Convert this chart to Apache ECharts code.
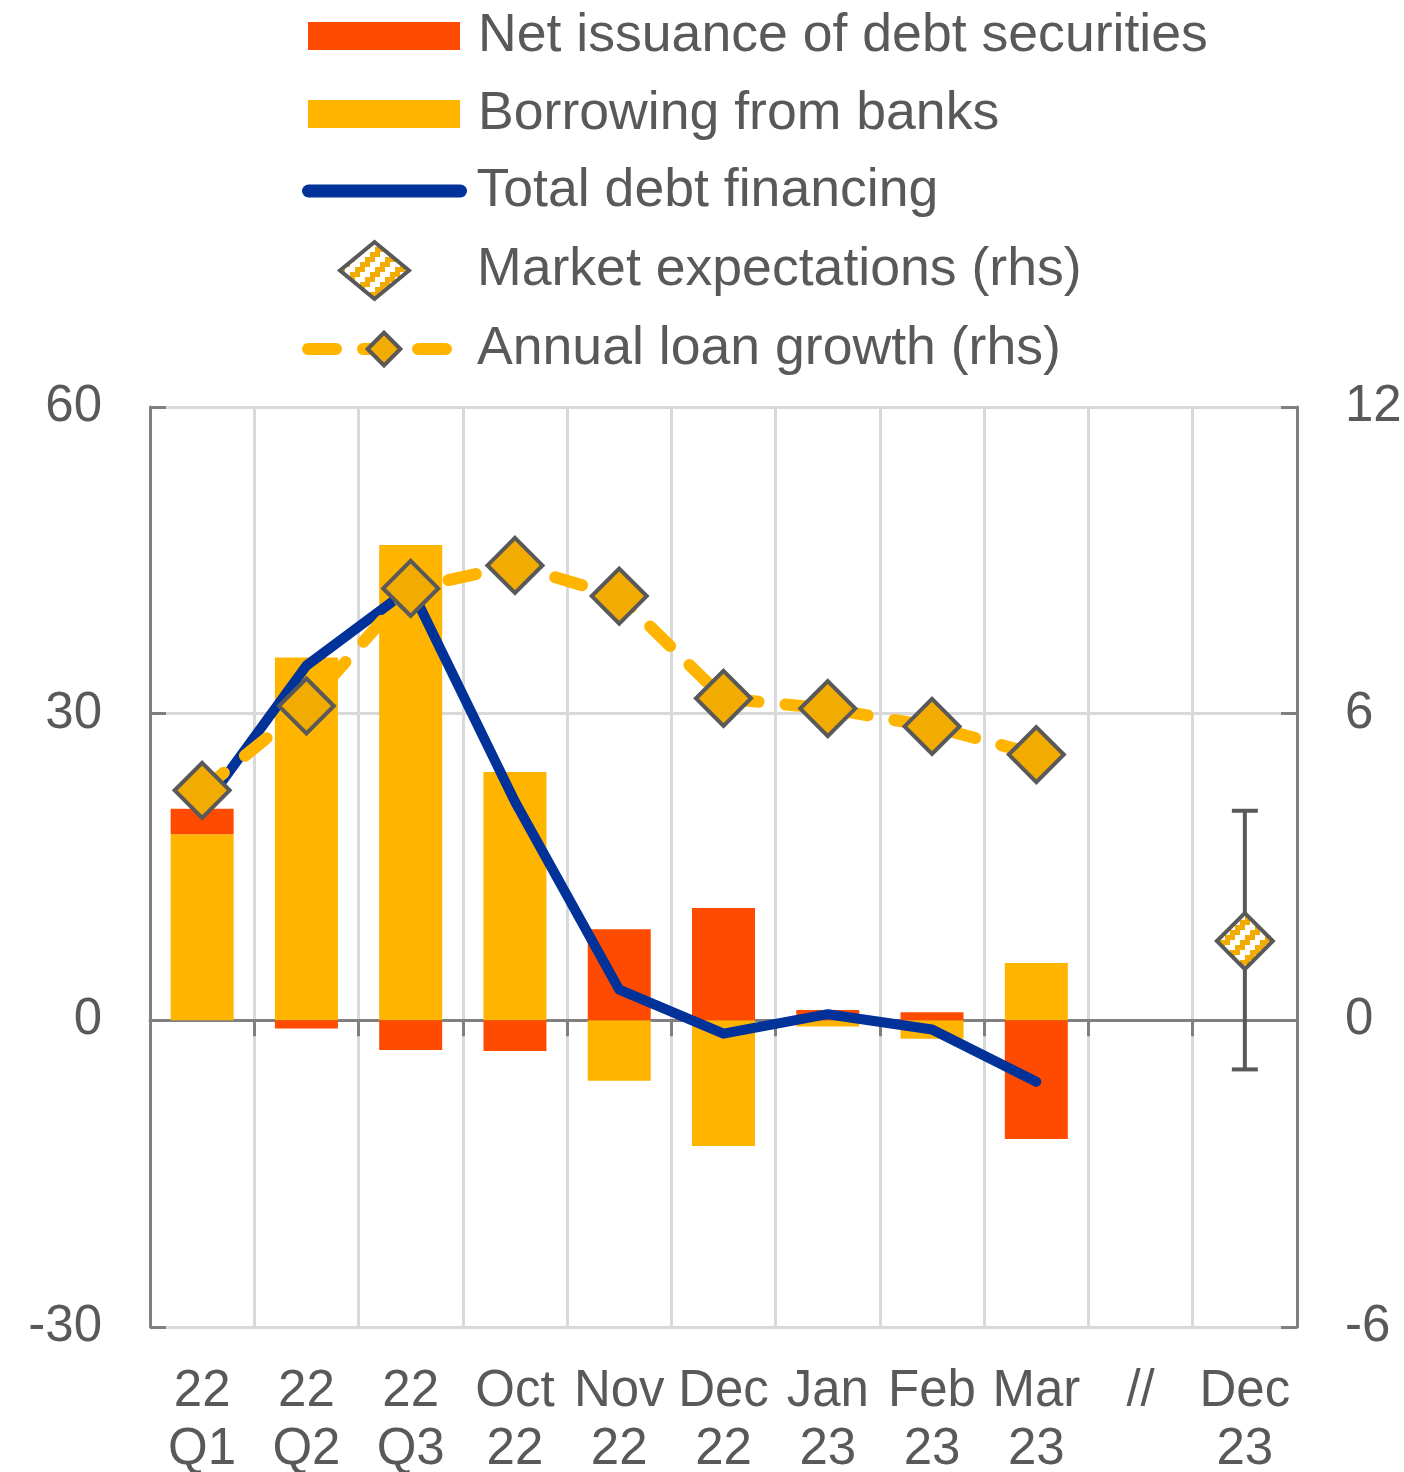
<!DOCTYPE html>
<html>
<head>
<meta charset="utf-8">
<title>Debt financing</title>
<script src="https://cdn.jsdelivr.net/npm/echarts@6/dist/echarts.min.js"></script>
<style>
  html, body { margin: 0; padding: 0; background: #fff; }
  #chart { width: 1404px; height: 1472px; }
</style>
</head>
<body>
<div id="chart"></div>
<script>
  var categories = ["22\nQ1", "22\nQ2", "22\nQ3", "Oct\n22", "Nov\n22", "Dec\n22", "Jan\n23", "Feb\n23", "Mar\n23", "//", "Dec\n23"];
  var borrowing = [18.2, 35.5, 46.5, 24.3, -5.9, -12.3, -0.6, -1.8, 5.6, null, null];
  var netIssuance = [2.5, -0.8, -2.9, -3.0, 8.9, 11.0, 1.0, 0.8, -11.6, null, null];
  var totalDebt = [20.7, 34.7, 42.3, 21.4, 3.0, -1.3, 0.6, -0.9, -6.0, null, null];
  var loanGrowth = [4.5, 6.15, 8.45, 8.9, 8.3, 6.3, 6.1, 5.75, 5.2, null, null];
  // market expectation for Dec 23: [category index, value, high, low]
  var expectation = [[10, 1.55, 4.1, -0.96]];
  var leftTicks = { min: -30, max: 60, interval: 30 };
  var rightTicks = { min: -6, max: 12, interval: 6 };

  var FONT = "'Liberation Sans', Arial, sans-serif";
  var TXT = "#595959";
  var AXIS = "#808080";
  var GRID = "#d9d9d9";
  var RED = "#FF4B00";
  var YEL = "#FFB400";
  var DARKYEL = "#F2AB00";
  var BLUE = "#003299";

  // zigzag stripe fill for the expectation marker
  var pat = document.createElement("canvas");
  pat.width = 20; pat.height = 20;
  var pc = pat.getContext("2d");
  pc.fillStyle = "#fff";
  pc.fillRect(0, 0, 20, 20);
  pc.fillStyle = DARKYEL;
  for (var r = 0; r < 4; r++) {
    for (var c = 0; c < 4; c++) {
      if ((r + c) % 4 < 2) pc.fillRect(c * 5, r * 5, 5, 5);
    }
  }
  var stripes = { image: pat, repeat: "repeat" };

  function legendRow(name, left, top, pad, extra) {
    var l = {
      data: [name],
      left: left,
      top: top,
      orient: "vertical",
      padding: 0,
      itemWidth: 152,
      itemHeight: 28,
      selectedMode: false,
      textStyle: { fontFamily: FONT, fontSize: 53.6, color: TXT, lineHeight: 60, padding: [0, 0, 0, pad] }
    };
    for (var k in extra) l[k] = extra[k];
    return l;
  }

  var chart = echarts.init(document.getElementById("chart"));
  chart.setOption({
    animation: false,
    backgroundColor: "#fff",
    textStyle: { fontFamily: FONT },
    legend: [
      legendRow("Net issuance of debt securities", 308, 6, 13, { icon: "rect" }),
      legendRow("Borrowing from banks", 308, 84, 13, { icon: "rect" }),
      legendRow("Total debt financing", 302, 161, 11, {
        lineStyle: { width: 13, cap: "round", color: BLUE },
        itemStyle: { opacity: 0 }
      }),
      legendRow("Market expectations (rhs)", 338, 240, 63, {
        itemWidth: 69,
        itemHeight: 57,
        data: [{ name: "Market expectations (rhs)", icon: "path://M34.5,0L69,28.5L34.5,57L0,28.5Z" }],
        itemStyle: { color: stripes, borderColor: TXT, borderWidth: 4 }
      }),
      legendRow("Annual loan growth (rhs)", 302, 319, 12, {
        itemHeight: 41,
        lineStyle: { width: 12, cap: "round", type: [28, 27], color: YEL },
        itemStyle: { color: DARKYEL, borderColor: TXT, borderWidth: 4 }
      })
    ],
    grid: { left: 150, right: 107, top: 407, bottom: 145, containLabel: false, outerBoundsMode: "none" },
    xAxis: [
      {
        type: "category",
        data: categories,
        position: "bottom",
        axisLine: { show: false },
        axisTick: { show: false },
        axisLabel: { interval: 0, fontSize: 51, lineHeight: 58, color: TXT, margin: 36, fontFamily: FONT },
        splitLine: { show: true, interval: 0, lineStyle: { color: GRID, width: 3 } }
      },
      {
        type: "category",
        data: categories,
        position: "top",
        axisLine: { show: true, onZero: true, lineStyle: { color: AXIS, width: 3 } },
        axisTick: { show: true, inside: true, length: 16, interval: 0, lineStyle: { color: AXIS, width: 3 } },
        axisLabel: { show: false },
        splitLine: { show: false }
      }
    ],
    yAxis: [
      {
        type: "value",
        min: leftTicks.min, max: leftTicks.max, interval: leftTicks.interval,
        axisLine: { show: true, lineStyle: { color: AXIS, width: 3 } },
        axisTick: { show: true, inside: true, length: 16, lineStyle: { color: AXIS, width: 3 } },
        axisLabel: { fontSize: 51, color: TXT, margin: 48, fontFamily: FONT },
        splitLine: { show: true, lineStyle: { color: GRID, width: 3 } }
      },
      {
        type: "value",
        min: rightTicks.min, max: rightTicks.max, interval: rightTicks.interval,
        axisLine: { show: true, lineStyle: { color: AXIS, width: 3 } },
        axisTick: { show: true, inside: true, length: 16, lineStyle: { color: AXIS, width: 3 } },
        axisLabel: { fontSize: 51, color: TXT, margin: 48, fontFamily: FONT },
        splitLine: { show: false }
      }
    ],
    series: [
      {
        name: "Borrowing from banks",
        type: "bar",
        stack: "debt",
        barWidth: 63,
        data: borrowing,
        itemStyle: { color: YEL },
        z: 2
      },
      {
        name: "Net issuance of debt securities",
        type: "bar",
        stack: "debt",
        barWidth: 63,
        data: netIssuance,
        itemStyle: { color: RED },
        z: 2
      },
      {
        name: "Total debt financing",
        type: "line",
        data: totalDebt,
        symbol: "none",
        lineStyle: { color: BLUE, width: 10, cap: "round", join: "round" },
        itemStyle: { color: BLUE },
        z: 3
      },
      {
        name: "Annual loan growth (rhs)",
        type: "line",
        yAxisIndex: 1,
        data: loanGrowth,
        symbol: "diamond",
        symbolSize: 55,
        lineStyle: { color: YEL, width: 12, type: [28, 27], cap: "round" },
        itemStyle: { color: DARKYEL, borderColor: TXT, borderWidth: 4 },
        z: 4
      },
      {
        // range whiskers plus the striped diamond
        name: "Market expectations (rhs)",
        type: "custom",
        yAxisIndex: 1,
        data: expectation,
        encode: { x: 0, y: [1, 2, 3] },
        itemStyle: { color: stripes, borderColor: TXT, borderWidth: 4 },
        renderItem: function (params, api) {
          var mid = api.coord([api.value(0), api.value(1)]);
          var top = api.coord([api.value(0), api.value(2)]);
          var bot = api.coord([api.value(0), api.value(3)]);
          var half = 13;
          var d = 28;
          var st = { stroke: TXT, lineWidth: 4 };
          return {
            type: "group",
            children: [
              { type: "line", shape: { x1: top[0], y1: top[1], x2: bot[0], y2: bot[1] }, style: st },
              { type: "line", shape: { x1: top[0] - half, y1: top[1], x2: top[0] + half, y2: top[1] }, style: st },
              { type: "line", shape: { x1: bot[0] - half, y1: bot[1], x2: bot[0] + half, y2: bot[1] }, style: st },
              {
                type: "polygon",
                shape: { points: [[mid[0], mid[1] - d], [mid[0] + d, mid[1]], [mid[0], mid[1] + d], [mid[0] - d, mid[1]]] },
                style: { fill: stripes, stroke: TXT, lineWidth: 4 }
              }
            ]
          };
        },
        z: 5
      }
    ]
  });
</script>
</body>
</html>
